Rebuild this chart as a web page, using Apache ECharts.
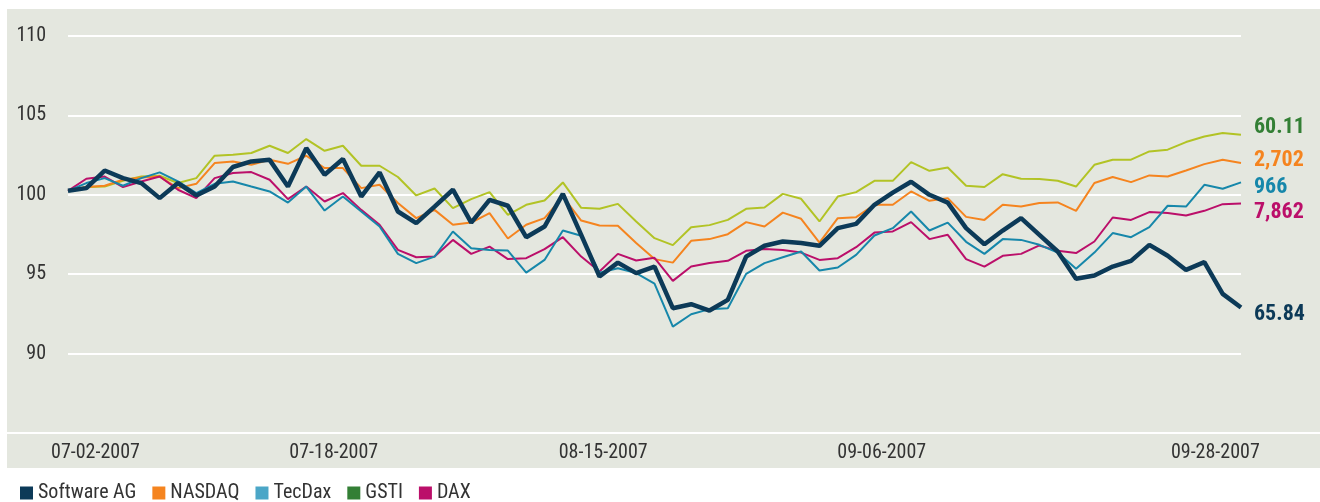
<!DOCTYPE html>
<html>
<head>
<meta charset="utf-8">
<title>Software AG im Vergleich</title>
<script src="https://cdn.jsdelivr.net/npm/echarts@6/dist/echarts.min.js"></script>
<style>
  html, body { margin: 0; padding: 0; background: #fff; }
  #chart { width: 1320px; height: 502px; }
</style>
</head>
<body>
<div id="chart"></div>
<script>
// trading days, 07-02-2007 .. 09-28-2007
const dates = [
  '07-02-2007', '07-03-2007', '07-04-2007', '07-05-2007', '07-06-2007',
  '07-09-2007', '07-10-2007', '07-11-2007', '07-12-2007', '07-13-2007',
  '07-16-2007', '07-17-2007', '07-18-2007', '07-19-2007', '07-20-2007',
  '07-23-2007', '07-24-2007', '07-25-2007', '07-26-2007', '07-27-2007',
  '07-30-2007', '07-31-2007', '08-01-2007', '08-02-2007', '08-03-2007',
  '08-06-2007', '08-07-2007', '08-08-2007', '08-09-2007', '08-10-2007',
  '08-13-2007', '08-14-2007', '08-15-2007', '08-16-2007', '08-17-2007',
  '08-20-2007', '08-21-2007', '08-22-2007', '08-23-2007', '08-24-2007',
  '08-27-2007', '08-28-2007', '08-29-2007', '08-30-2007', '08-31-2007',
  '09-03-2007', '09-04-2007', '09-05-2007', '09-06-2007', '09-07-2007',
  '09-10-2007', '09-11-2007', '09-12-2007', '09-13-2007', '09-14-2007',
  '09-17-2007', '09-18-2007', '09-19-2007', '09-20-2007', '09-21-2007',
  '09-24-2007', '09-25-2007', '09-26-2007', '09-27-2007', '09-28-2007'
]

const softwareAg = [
  100.25, 100.42, 101.53, 101.05, 100.74, 99.79, 100.74, 99.96, 100.52, 101.75,
  102.1, 102.2, 100.52, 102.94, 101.26, 102.25, 99.89, 101.41, 98.95, 98.22,
  99.26, 100.32, 98.25, 99.68, 99.31, 97.33, 98.0, 100.06, 97.48, 94.85,
  95.73, 95.07, 95.48, 92.86, 93.11, 92.71, 93.38, 96.11, 96.79, 97.06,
  96.96, 96.79, 97.9, 98.17, 99.37, 100.14, 100.82, 100.0, 99.51, 97.9,
  96.89, 97.75, 98.53, 97.48, 96.43, 94.71, 94.92, 95.48, 95.84, 96.85,
  96.16, 95.27, 95.76, 93.76, 92.9
]
const nasdaq = [
  100.25, 100.49, 100.57, 100.95, 101.09, 101.15, 100.42, 100.69, 102.0, 102.1,
  101.89, 102.21, 101.95, 102.46, 101.68, 101.68, 100.42, 100.63, 99.48, 98.53,
  99.05, 98.11, 98.25, 98.85, 97.25, 98.11, 98.53, 99.89, 98.38, 98.07,
  98.05, 96.96, 95.95, 95.73, 97.1, 97.21, 97.52, 98.28, 98.0, 98.88,
  98.49, 96.99, 98.53, 98.59, 99.37, 99.37, 100.21, 99.62, 99.79, 98.61,
  98.42, 99.37, 99.26, 99.48, 99.52, 98.99, 100.74, 101.12, 100.8, 101.22,
  101.15, 101.53, 101.93, 102.21, 102.0
]
const tecDax = [
  100.25, 100.74, 101.05, 100.57, 101.05, 101.41, 100.84, 100.11, 100.69, 100.84,
  100.52, 100.21, 99.51, 100.52, 99.01, 99.89, 98.95, 98.0, 96.28, 95.7,
  96.11, 97.69, 96.64, 96.53, 96.49, 95.1, 95.9, 97.75, 97.42, 95.09,
  95.38, 95.07, 94.41, 91.7, 92.48, 92.8, 92.86, 95.02, 95.7, 96.07,
  96.43, 95.23, 95.42, 96.22, 97.44, 97.9, 98.95, 97.75, 98.25, 97.04,
  96.28, 97.21, 97.16, 96.85, 96.36, 95.34, 96.36, 97.59, 97.33, 97.96,
  99.31, 99.26, 100.63, 100.38, 100.78
]
const gsti = [
  100.25, 100.49, 100.52, 100.88, 101.15, 101.2, 100.74, 101.05, 102.46, 102.52,
  102.63, 103.09, 102.63, 103.51, 102.77, 103.09, 101.83, 101.83, 101.12, 99.96,
  100.4, 99.16, 99.73, 100.17, 98.74, 99.37, 99.64, 100.78, 99.18, 99.12,
  99.43, 98.32, 97.27, 96.83, 97.96, 98.09, 98.42, 99.12, 99.2, 100.06,
  99.75, 98.32, 99.89, 100.17, 100.88, 100.88, 102.06, 101.51, 101.72, 100.57,
  100.49, 101.3, 101.01, 100.99, 100.88, 100.52, 101.89, 102.21, 102.21, 102.73,
  102.84, 103.32, 103.67, 103.89, 103.78
]
const dax = [
  100.25, 101.01, 101.15, 100.49, 100.84, 101.15, 100.32, 99.79, 101.05, 101.37,
  101.43, 100.95, 99.73, 100.52, 99.58, 100.11, 99.05, 98.11, 96.53, 96.07,
  96.11, 97.16, 96.28, 96.74, 95.95, 96.01, 96.58, 97.33, 96.11, 95.17,
  96.28, 95.86, 96.03, 94.58, 95.48, 95.7, 95.84, 96.47, 96.58, 96.53,
  96.36, 95.9, 96.01, 96.7, 97.62, 97.69, 98.28, 97.21, 97.48, 95.95,
  95.48, 96.16, 96.28, 96.81, 96.47, 96.33, 97.06, 98.57, 98.42, 98.91,
  98.85, 98.7, 98.99, 99.41, 99.45
]

// closing levels printed at the line ends
const endText = {
  'Software AG': '65.84',
  'NASDAQ': '2,702',
  'TecDax': '966',
  'GSTI': '60.11',
  'DAX': '7,862'
}

const tickLabels = ['07-02-2007', '07-18-2007', '08-15-2007', '09-06-2007', '09-28-2007']
const yTicks = [85, 90, 95, 100, 105, 110]

// where the date labels sit along the axis (in day-index units)
const labelSlots = [1.5, 14.5, 29.2, 44.4, 62.6]

const FONT = '"Liberation Sans Narrow", "Roboto Condensed", "DejaVu Sans Condensed", "Liberation Sans", sans-serif'
const TEXT = '#333333'

const colors = {
  navy: '#0c3a58',
  orange: '#f5841f',
  teal: '#1687aa',
  tealLight: '#4ba6c7',
  lime: '#b2c325',
  green: '#337f35',
  magenta: '#bb0f6a'
}

function lineSeries(name, data, lineColor, labelColor, width, dy, z) {
  return {
    name,
    type: 'line',
    data,
    z,
    showSymbol: false,
    symbol: 'none',
    lineStyle: { color: lineColor, width },
    itemStyle: { color: lineColor },
    emphasis: { disabled: true },
    endLabel: {
      show: true,
      formatter: () => endText[name],
      color: labelColor,
      fontFamily: FONT,
      fontWeight: 'bold',
      fontSize: 22,
      distance: 13,
      offset: [0, dy]
    }
  }
}

const chart = echarts.init(document.getElementById('chart'))

chart.setOption({
  animation: false,
  textStyle: { fontFamily: FONT },
  graphic: [
    { type: 'rect', z: -10, silent: true, shape: { x: 7, y: 9, width: 1313, height: 459 }, style: { fill: '#e4e7df' } },
    { type: 'line', z: -9, silent: true, shape: { x1: 7, y1: 433, x2: 1320, y2: 433 }, style: { stroke: '#ffffff', lineWidth: 2 } }
  ],
  grid: { left: 68, right: 79, top: 36, bottom: 69 },
  legend: {
    left: 15,
    top: 478,
    icon: 'rect',
    itemWidth: 13,
    itemHeight: 13,
    itemGap: 16,
    textStyle: { fontFamily: FONT, fontSize: 20, color: TEXT },
    data: [
      { name: 'Software AG', itemStyle: { color: colors.navy } },
      { name: 'NASDAQ', itemStyle: { color: colors.orange } },
      { name: 'TecDax', itemStyle: { color: colors.tealLight } },
      { name: 'GSTI', itemStyle: { color: colors.green } },
      { name: 'DAX', itemStyle: { color: colors.magenta } }
    ]
  },
  xAxis: [
    {
      type: 'category',
      data: dates,
      boundaryGap: false,
      axisLine: { show: false },
      axisTick: { show: false },
      axisLabel: { show: false },
      splitLine: { show: false }
    },
    {
      type: 'value',
      position: 'bottom',
      min: 0,
      max: dates.length - 1,
      axisLine: { show: false },
      axisTick: { show: false },
      splitLine: { show: false },
      axisLabel: {
        customValues: labelSlots,
        formatter: v => tickLabels[labelSlots.indexOf(v)] || '',
        color: TEXT,
        fontFamily: FONT,
        fontSize: 20,
        margin: 10,
        lineHeight: 20
      }
    }
  ],
  yAxis: {
    type: 'value',
    min: yTicks[0],
    max: yTicks[yTicks.length - 1],
    interval: 5,
    axisLine: { show: false },
    axisTick: { show: false },
    axisLabel: {
      formatter: v => (v === yTicks[0] ? '' : String(v)),
      color: TEXT,
      fontFamily: FONT,
      fontSize: 20,
      margin: 22
    },
    splitLine: { lineStyle: { color: '#ffffff', width: 2 } }
  },
  series: [
    lineSeries('GSTI', gsti, colors.lime, colors.green, 2, -7, 2),
    lineSeries('NASDAQ', nasdaq, colors.orange, colors.orange, 2, -3, 3),
    lineSeries('DAX', dax, colors.magenta, colors.magenta, 2, 9, 4),
    lineSeries('TecDax', tecDax, colors.teal, colors.teal, 2, 5, 5),
    lineSeries('Software AG', softwareAg, colors.navy, colors.navy, 4.5, 7, 6)
  ]
})

window.addEventListener('resize', () => chart.resize())
</script>
</body>
</html>
